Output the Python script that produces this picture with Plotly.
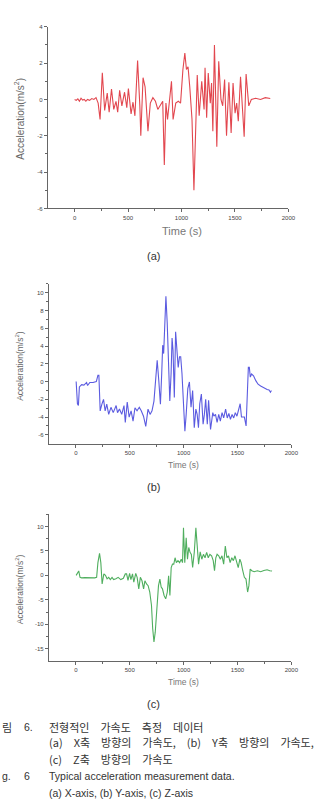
import plotly.graph_objects as go

W, H = 314, 808

# ---- data ----
t_x = [0, 15, 30, 45, 60, 75, 90, 105, 120, 140, 160, 180, 200, 220, 238, 259, 281, 305, 323, 345, 366, 387,
       403, 421, 442, 467, 488, 503, 528, 546, 564, 589, 610, 619, 640, 659, 686, 708, 732, 756, 778, 799,
       824, 839, 854, 869, 885, 906, 921, 946, 970, 991, 1013, 1031, 1046, 1061, 1077, 1098, 1116, 1135,
       1147, 1165, 1189, 1211, 1220, 1235, 1250, 1269, 1281, 1293, 1308, 1330, 1348, 1369, 1385, 1403,
       1421, 1443, 1464, 1482, 1501, 1516, 1531, 1552, 1567, 1586, 1604, 1629, 1653, 1693, 1739, 1784, 1830]
a_x = [0.0, -0.05, 0.03, -0.1, 0.07, -0.03, 0.0, -0.1, 0.0, -0.05, 0.05, 0.0, 0.1, -0.2, -1.1, 1.47, -0.6, 0.35,
       -0.7, 0.58, -0.55, -0.1, -0.7, 0.5, -0.35, 0.4, -0.45, 0.6, -0.8, -0.15, -0.9, 2.15, -0.35, -2.0, 1.2,
       0.7, -1.75, -0.2, 0.1, -0.1, -0.55, -0.35, -0.1, -3.6, -0.2, -1.1, -0.2, 1.0, -1.1, -0.2, -0.1, -0.2,
       1.65, 2.55, 1.65, 1.8, 0.7, -1.1, -5.0, -0.2, 1.35, -0.9, 1.0, -0.55, 1.75, -1.0, 1.45, -0.2, 0.9,
       -1.75, 3.0, -2.6, 2.1, 0.0, -0.35, 1.1, -2.0, 0.95, -1.85, 0.9, -0.75, -0.2, -1.2, 1.25, -0.2, -2.05,
       1.4, -0.35, 0.0, 0.07, 0.0, 0.1, 0.05]

t_y = [3, 15, 24, 33, 54, 75, 100, 109, 130, 160, 190, 205, 214, 226, 242, 257, 272, 287, 305, 326, 347, 374,
       387, 405, 426, 447, 459, 477, 495, 513, 531, 549, 568, 589, 607, 628, 649, 670, 689, 707, 725, 740,
       755, 770, 785, 797, 806, 815, 824, 836, 848, 860, 872, 884, 893, 902, 914, 926, 938, 950, 962, 973,
       985, 997, 1012, 1024, 1039, 1054, 1069, 1084, 1099, 1114, 1126, 1138, 1150, 1165, 1181, 1193, 1205,
       1220, 1232, 1250, 1271, 1281, 1296, 1311, 1326, 1341, 1357, 1372, 1390, 1405, 1420, 1435, 1450,
       1465, 1480, 1495, 1510, 1525, 1537, 1552, 1564, 1580, 1589, 1601, 1610, 1619, 1631, 1649, 1670,
       1691, 1715, 1745, 1775, 1793, 1806, 1815]
a_y = [0.0, -2.5, -2.7, -0.6, -0.35, -0.4, -0.1, -0.45, -0.1, -0.1, 0.0, 0.7, 0.7, -3.3, -2.55, -2.0, -3.3,
       -2.55, -3.7, -2.9, -3.5, -2.7, -3.5, -3.1, -3.7, -2.7, -4.6, -2.3, -4.0, -3.3, -4.45, -2.95, -3.3,
       -2.9, -3.3, -3.9, -5.05, -3.1, -3.7, -3.3, -2.2, 0.1, 2.4, 0.1, -2.55, 0.9, 4.1, 3.15, 6.2, 9.6, 6.6,
       1.65, -2.2, 0.9, 4.9, 3.5, -1.8, 5.6, 2.8, 1.6, 2.8, 2.8, 0.9, -1.8, -5.6, -3.7, -0.8, -0.05, -2.9,
       -1.0, -5.2, -3.1, -3.7, -5.2, -2.5, -1.4, -4.8, -3.7, -2.0, -4.8, -2.1, -5.4, -3.5, -3.9, -3.7, -4.6,
       -3.7, -4.45, -3.5, -4.1, -3.1, -4.1, -3.6, -4.25, -3.7, -4.1, -3.5, -3.9, -3.1, -2.5, -4.0, -4.0,
       -4.0, -5.0, -2.2, 1.6, 1.6, 0.5, 0.85, 0.65, 0.1, -0.3, -0.5, -0.75, -0.9, -0.95, -1.2, -1.0]

t_z = [3, 15, 27, 39, 54, 84, 115, 145, 175, 193, 205, 220, 232, 244, 260, 275, 290, 305, 320, 336, 351, 372,
       393, 417, 441, 459, 471, 484, 499, 511, 526, 538, 556, 569, 584, 599, 614, 629, 641, 656, 671, 686,
       702, 713, 725, 737, 752, 767, 780, 792, 804, 819, 834, 849, 861, 873, 885, 897, 909, 921, 933, 948,
       963, 978, 990, 999, 1011, 1024, 1036, 1048, 1060, 1072, 1084, 1099, 1114, 1127, 1139, 1154, 1169,
       1184, 1199, 1214, 1229, 1244, 1260, 1275, 1287, 1299, 1311, 1326, 1341, 1356, 1372, 1387, 1402,
       1417, 1432, 1447, 1462, 1477, 1492, 1507, 1522, 1534, 1549, 1564, 1579, 1594, 1606, 1618, 1633,
       1655, 1685, 1715, 1745, 1775, 1800, 1821]
a_z = [0.0, 0.6, 0.9, -0.4, -0.5, -0.45, -0.5, -0.4, -0.5, -0.4, 2.6, 4.5, 2.6, -1.75, 0.3, 0.0, -0.7, -0.4,
       -0.85, -0.4, -0.85, -0.7, -0.4, -0.85, -0.6, 0.3, 0.3, -1.0, 0.4, -0.85, 0.3, -1.4, 0.4, -0.4, -2.75,
       -0.4, -1.1, -2.75, -1.1, -1.75, -2.1, -3.4, -6.1, -10.8, -13.6, -11.6, -6.8, -2.1, -0.75, -2.4, -2.75,
       -4.1, -4.8, -3.4, -0.1, -4.1, 1.6, 2.3, 2.3, 3.6, 2.6, 3.0, 2.6, 3.3, 2.6, 9.7, 2.6, 7.7, 3.3, 5.7,
       4.7, 4.3, 1.6, 4.7, 9.7, 4.7, 2.3, 4.8, 3.3, 4.3, 3.6, 4.7, 3.6, 4.3, 4.0, 3.0, 0.95, 3.6, 4.3, 4.0,
       3.3, 4.0, 2.3, 6.0, 3.6, 4.0, 2.6, 3.6, 3.0, 4.0, 2.6, 1.6, 3.3, 2.6, 0.95, -0.4, -0.75, -3.4, -2.1,
       1.3, 0.95, 0.75, 0.95, 0.75, 1.0, 1.15, 0.95, 0.9]

x_ticks = [0, 500, 1000, 1500, 2000]
x_tick_text = ["0", "500", "1000", "1500", "2000"]

panels = [
    dict(t=t_x, a=a_x, color="#e2474f", px=(49, 295), py=(24, 207), yr=[-6, 4], dy=2,
         lab="(a)", lab_y=255, time_y=230, time_size=11, ytitle_y=117, ytitle_size=10),
    dict(t=t_y, a=a_y, color="#5b5be0", px=(50, 298), py=(283, 444), yr=[-7, 11], dy=2,
         lab="(b)", lab_y=488, time_y=465, time_size=8.5, ytitle_y=366, ytitle_size=8.5),
    dict(t=t_z, a=a_z, color="#4fae5e", px=(50, 298), py=(515, 663), yr=[-17.5, 12.5], dy=5,
         lab="(c)", lab_y=706, time_y=684, time_size=8.5, ytitle_y=591, ytitle_size=8.5),
]

fig = go.Figure()
annotations = []
axis_common = dict(showgrid=False, zeroline=False, showline=True, linecolor="#666", linewidth=1,
                   ticks="outside", ticklen=3, tickcolor="#666", tickwidth=1,
                   tickfont=dict(family="Liberation Sans, Arial", size=6, color="#444"))

def py2p(y):
    return 1 - y / H

for i, p in enumerate(panels):
    n = "" if i == 0 else str(i + 1)
    fig.add_trace(go.Scatter(x=p["t"], y=p["a"], mode="lines",
                             line=dict(color=p["color"], width=1.1),
                             xaxis="x" + n, yaxis="y" + n, showlegend=False, hoverinfo="skip"))
    xd = [p["px"][0] / W, p["px"][1] / W]
    yd = [py2p(p["py"][1]), py2p(p["py"][0])]
    ylo, yhi = p["yr"]
    yt = [v for v in range(int(ylo) - 5, int(yhi) + 6) if v % p["dy"] == 0 and ylo <= v <= yhi]
    fig.update_layout(**{
        "xaxis" + n: dict(domain=xd, range=[-250, 2000], anchor="y" + n, tickmode="array",
                          tickvals=x_ticks, ticktext=x_tick_text,
                          minor=dict(ticks="outside", ticklen=2, tickcolor="#666", tickvals=[250, 750, 1250, 1750]),
                          **axis_common),
        "yaxis" + n: dict(domain=yd, range=p["yr"], anchor="x" + n, tickmode="array",
                          tickvals=yt, ticktext=[str(v) for v in yt],
                          minor=dict(ticks="outside", ticklen=2, tickcolor="#666",
                                     tickvals=[v + p["dy"] / 2 for v in yt]),
                          **axis_common),
    })
    annotations.append(dict(text="Time (s)", x=(77 + 298) / 2 / W if i else (77 + 295) / 2 / W,
                            y=py2p(p["time_y"]), xref="paper", yref="paper", showarrow=False,
                            xanchor="center", yanchor="middle",
                            font=dict(family="Liberation Sans, Arial", size=p["time_size"], color="#777")))
    annotations.append(dict(text="Acceleration(m/s<sup>2</sup>)", x=20 / W, y=py2p(p["ytitle_y"]),
                            xref="paper", yref="paper", showarrow=False, textangle=-90,
                            xanchor="center", yanchor="middle",
                            font=dict(family="Liberation Sans, Arial", size=p["ytitle_size"], color="#666")))
    annotations.append(dict(text=p["lab"], x=157 / W, y=py2p(p["lab_y"]), xref="paper", yref="paper",
                            showarrow=False, xanchor="center", yanchor="middle",
                            font=dict(family="Liberation Sans", size=11, color="#333")))

S = "\u3000"
kr_font = dict(family="Noto Sans CJK KR", size=11, color="#333")
en_font = dict(family="Liberation Sans", size=10.5, color="#333")
captions = [
    (0, 729, "림", kr_font), (23, 729, "6.", en_font),
    (48, 729, f"전형적인{S}가속도{S}측정{S}데이터", kr_font),
    (48, 745, f"(a){S}X축{S}방향의{S}가속도,{S}(b){S}Y축{S}방향의{S}가속도,", kr_font),
    (48, 762, f"(c){S}Z축{S}방향의{S}가속도", kr_font),
    (0, 779, "g.", en_font), (23, 779, "6", en_font),
    (48, 779, "Typical acceleration measurement data.", en_font),
    (48, 796, "(a) X-axis, (b) Y-axis, (c) Z-axis", en_font),
]
for x, y, s, f in captions:
    annotations.append(dict(text=s, x=x / W, y=py2p(y), xref="paper", yref="paper", showarrow=False,
                            xanchor="left", yanchor="middle", font=f))

fig.update_layout(width=W, height=H, margin=dict(l=0, r=0, t=0, b=0),
                  paper_bgcolor="white", plot_bgcolor="white", annotations=annotations)
fig.write_html("out.html")
